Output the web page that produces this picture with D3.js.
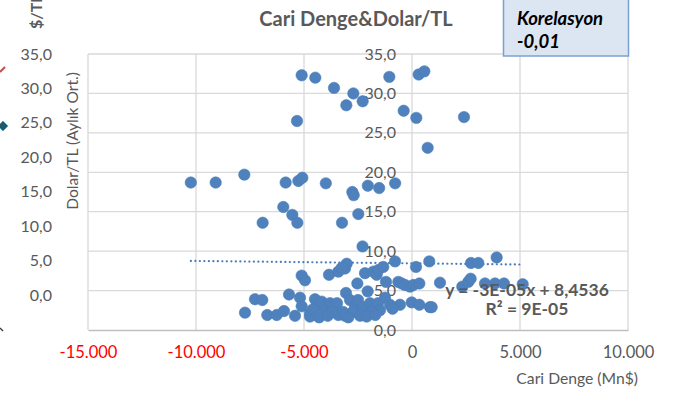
<!DOCTYPE html>
<html><head><meta charset="utf-8">
<script src="https://cdn.jsdelivr.net/npm/d3@7"></script>
<style>
html,body{margin:0;padding:0;background:#fff;}
svg{display:block;font-family:Lato,"Open Sans",sans-serif;}
</style></head>
<body><svg id="c" width="682" height="401"></svg>
<script>
// ---- data ----
const cariDenge = [
 -5107,-4477,-3611,-2716,-3040,-2284,-1050,309,571,-386,200,-5324,2407,725,
 -10240,-9089,-7763,-5849,-5262,-5077,-3990,-2762,-2700,-2045,-1520,-780,-2485,-3240,-5958,-5540,-5309,-6914,-2290,
 -5107,-4954,-3843,-3411,-3102,-3024,-3250,-2176,-2531,-1791,-1636,-1560,-1328,-787,-1204,-632,-478,-324,-93,62,340,185,800,1296,2329,2607,2715,2731,3071,3920,3380,3843,4259,5125,-2052,-3056,
 -7731,-7269,-6931,-6700,-6264,-5926,-5694,-5417,-5185,-5107,-4722,-4491,-4412,-4181,-4028,-3796,-3412,-4722,
 -3658,-3472,-2871,-2639,-2500,-2269,-1945,-1806,-1574,-1482,-1852,-2732,-3195,-3704,-1018,-556,-14,338,833,910,-1250,-2407,-3102,-4300,-4600,-3900,-2950,-2100,-1700,-900
];
const dolarTL = [
 32.3,32.0,30.7,30.0,28.5,29.0,32.1,32.4,32.8,27.8,26.9,26.5,27.0,23.1,
 18.7,18.7,19.7,18.7,18.9,19.3,18.6,17.5,17.1,18.3,18.0,18.6,14.7,13.6,15.6,14.6,13.6,13.6,10.6,
 6.9,6.3,7.0,7.4,7.8,8.4,7.9,7.2,5.9,7.4,7.0,7.6,8.0,8.7,6.1,6.1,5.9,5.7,5.5,5.7,5.9,8.0,8.7,6.0,5.5,6.1,6.5,8.5,8.5,9.2,5.9,5.9,5.9,5.8,4.9,4.7,
 2.2,3.9,3.8,1.9,1.9,2.4,4.5,1.8,4.1,3.0,2.1,3.9,3.0,3.6,2.5,3.4,1.9,1.7,
 2.9,3.4,3.8,2.9,3.8,2.9,3.4,2.5,3.4,2.5,2.3,2.3,2.3,2.3,3.2,3.2,3.5,3.2,2.9,2.9,4.1,1.8,1.8,1.6,2.6,1.8,1.6,1.7,1.9,2.7
];
const xTicks = [-15000,-10000,-5000,0,5000,10000];
const yTicks = [0,5,10,15,20,25,30,35];
const ghostYTicks = [0,5,10,15,20,25,30,35];
const trendSlope = [-0.00003];
const trendIntercept = [8.4536];
const chartTitle = "Cari Denge&Dolar/TL";
const xTitle = "Cari Denge (Mn$)";
const yTitle = "Dolar/TL (Aylık Ort.)";
const ghostTitle = "$/TL";
const corrLines = ["Korelasyon","-0,01"];
const eqLines = ["y = -3E-05x + 8,4536","R² = 9E-05"];

// ---- drawing ----
const svg = d3.select("#c");
const loc = d3.formatLocale({decimal:",",thousands:".",grouping:[3],currency:["",""],minus:"-"});
const fx = loc.format(",.0f"), fy = loc.format(",.1f");
const x = d3.scaleLinear().domain([-15000,10000]).range([88,628]);
const y = d3.scaleLinear().domain([0,35]).range([330,54]);
const gray = "#595959";

// ghost axis from the overlapped chart behind
const gy = d3.scaleLinear().domain([0,35]).range([295,54]);
svg.append("g").selectAll("text").data(ghostYTicks).join("text")
  .attr("x",52).attr("y",d=>gy(d)+5.5).attr("text-anchor","end")
  .attr("font-size",16).attr("fill",gray).text(d=>fy(d));
svg.append("text").attr("transform","translate(42,29) rotate(-90)")
  .attr("font-size",16).attr("font-weight","bold").attr("fill",gray).text(ghostTitle);
svg.append("line").attr("x1",0).attr("y1",72).attr("x2",5).attr("y2",67).attr("stroke","#c0504d").attr("stroke-width",2);
svg.append("path").attr("d","M3,121 L8,126 L3,131 L-2,126 Z").attr("fill","#215968").attr("stroke","#4bacc6").attr("stroke-width",1);
svg.append("line").attr("x1",0).attr("y1",328).attr("x2",3).attr("y2",331).attr("stroke","#404040").attr("stroke-width",1.5);

// gridlines
svg.append("g").selectAll("line").data(yTicks.filter(d=>d>0)).join("line")
  .attr("x1",88).attr("x2",628).attr("y1",d=>y(d)).attr("y2",d=>y(d))
  .attr("stroke","#d9d9d9").attr("stroke-width",1.3);
svg.append("g").selectAll("line").data(xTicks).join("line")
  .attr("x1",d=>x(d)).attr("x2",d=>x(d)).attr("y1",54).attr("y2",330)
  .attr("stroke","#d9d9d9").attr("stroke-width",1.3);

// x axis
const xAxis = svg.append("g").attr("transform","translate(0,330)")
  .call(d3.axisBottom(x).tickValues(xTicks).tickFormat(fx).tickSize(0).tickPadding(16));
xAxis.select(".domain").attr("stroke","#bfbfbf").attr("stroke-width",1.3);
xAxis.selectAll("text").attr("font-size",16.5).attr("font-family","Lato")
  .attr("fill",d=>d<0?"#ff0000":gray);

// y axis at x=0
const yAxis = svg.append("g").attr("transform",`translate(${x(0)},0)`)
  .call(d3.axisLeft(y).tickValues(yTicks).tickFormat(fy).tickSize(0).tickPadding(16));
yAxis.select(".domain").remove();
yAxis.selectAll("text").attr("font-size",16).attr("font-family","Lato").attr("fill",gray);

// trendline
const xs = d3.extent(cariDenge);
const tl = xs.map(v=>[x(v), y(trendIntercept[0]+trendSlope[0]*v)]);
svg.append("path").attr("d",d3.line()(tl)).attr("fill","none")
  .attr("stroke","#4a7ebb").attr("stroke-width",2.2).attr("stroke-dasharray","0.1 4.4").attr("stroke-linecap","round");

// points
svg.append("g").selectAll("circle").data(cariDenge.map((v,i)=>[v,dolarTL[i]])).join("circle")
  .attr("cx",d=>x(d[0])).attr("cy",d=>y(d[1])).attr("r",5.7)
  .attr("fill","#4f81bd").attr("stroke","#4a7ebb").attr("stroke-width",0.6);

// equation
svg.append("g").selectAll("text").data(eqLines).join("text")
  .attr("x",527).attr("y",(d,i)=>296+i*19).attr("text-anchor","middle")
  .attr("font-size",17.5).attr("font-weight","bold").attr("fill",gray).text(d=>d);

// titles
svg.append("text").attr("x",356).attr("y",26).attr("text-anchor","middle")
  .attr("font-size",20).attr("font-weight","bold").attr("fill",gray).text(chartTitle);
svg.append("text").attr("x",638).attr("y",384).attr("text-anchor","end")
  .attr("font-size",15.7).attr("fill",gray).text(xTitle);
svg.append("text").attr("transform","translate(78,141) rotate(-90)").attr("text-anchor","middle")
  .attr("font-size",15.6).attr("fill",gray).text(yTitle);

// correlation box
svg.append("rect").attr("x",503.5).attr("y",-1).attr("width",125).attr("height",57)
  .attr("fill","#dce6f2").attr("stroke","#7aa0d2").attr("stroke-width",1.5);
svg.append("g").selectAll("text").data(corrLines).join("text")
  .attr("x",517).attr("y",(d,i)=>25+i*23).attr("font-size",18.5)
  .attr("font-weight","bold").attr("font-style","italic").attr("fill","#000").text(d=>d);
</script></body></html>
